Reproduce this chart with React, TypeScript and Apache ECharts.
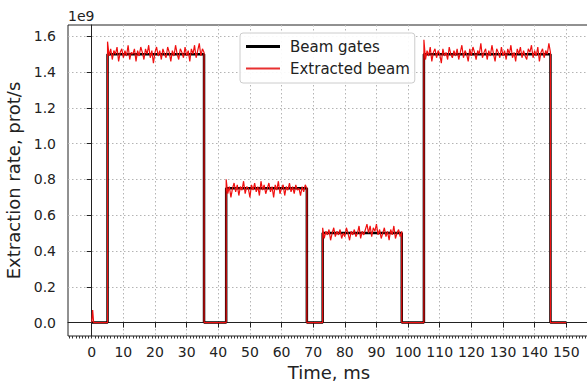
import React, { useEffect, useRef } from "react";
import * as echarts from "echarts";

// ---- data (y values in units of 1e9 prot/s, time in ms) ----
const GATE_TIMES = [0, 5, 5, 35.5, 35.5, 42.5, 42.5, 68, 68, 73, 73, 98, 98, 105, 105, 145, 145, 150];
const GATE_LEVELS = [0, 0, 1.5, 1.5, 0, 0, 0.75, 0.75, 0, 0, 0.5, 0.5, 0, 0, 1.5, 1.5, 0, 0];

const BEAM_LEAD_TIMES = [0, 0.3, 0.6];
const BEAM_LEAD_VALUES = [0, 0.07, 0];
const BEAM_END_TIME = 150;
const BEAM_STEP = 0.5;

const SEG1_START = 5;
const SEG1 = [
  1.57, 1.49, 1.53, 1.47, 1.52, 1.50, 1.54, 1.46, 1.51, 1.53,
  1.48, 1.52, 1.49, 1.55, 1.47, 1.51, 1.50, 1.53, 1.46, 1.52,
  1.49, 1.54, 1.51, 1.47, 1.53, 1.50, 1.55, 1.48, 1.52, 1.45,
  1.51, 1.54, 1.49, 1.52, 1.47, 1.53, 1.50, 1.48, 1.54, 1.51,
  1.46, 1.52, 1.49, 1.55, 1.50, 1.47, 1.53, 1.51, 1.48, 1.54,
  1.49, 1.52, 1.46, 1.53, 1.50, 1.55, 1.48, 1.52, 1.56, 1.49,
  1.53, 1.51,
];
const SEG2_START = 42.5;
const SEG2 = [
  0.80, 0.72, 0.76, 0.70, 0.75, 0.78, 0.73, 0.77, 0.71, 0.76,
  0.74, 0.79, 0.72, 0.76, 0.75, 0.70, 0.77, 0.74, 0.78, 0.73,
  0.76, 0.71, 0.79, 0.74, 0.77, 0.72, 0.75, 0.78, 0.73, 0.76,
  0.70, 0.77, 0.74, 0.79, 0.72, 0.75, 0.77, 0.71, 0.76, 0.74,
  0.78, 0.73, 0.76, 0.72, 0.77, 0.74, 0.75, 0.71, 0.76, 0.73,
  0.77, 0.75,
];
const SEG3_START = 73;
const SEG3 = [
  0.53, 0.47, 0.51, 0.49, 0.52, 0.46, 0.50, 0.53, 0.48, 0.51,
  0.49, 0.52, 0.47, 0.50, 0.48, 0.53, 0.50, 0.46, 0.51, 0.49,
  0.52, 0.48, 0.50, 0.54, 0.47, 0.51, 0.49, 0.52, 0.55, 0.50,
  0.54, 0.48, 0.53, 0.51, 0.55, 0.49, 0.52, 0.47, 0.50, 0.53,
  0.48, 0.51, 0.46, 0.52, 0.49, 0.54, 0.47, 0.50, 0.52, 0.48,
  0.51,
];
const SEG4_START = 105;
const SEG4 = [
  1.58, 1.47, 1.52, 1.49, 1.54, 1.46, 1.51, 1.53, 1.48, 1.52,
  1.50, 1.45, 1.53, 1.49, 1.51, 1.47, 1.54, 1.50, 1.48, 1.52,
  1.49, 1.53, 1.47, 1.51, 1.55, 1.48, 1.52, 1.50, 1.46, 1.53,
  1.49, 1.54, 1.51, 1.47, 1.52, 1.50, 1.56, 1.48, 1.51, 1.53,
  1.47, 1.52, 1.49, 1.55, 1.50, 1.46, 1.53, 1.51, 1.48, 1.54,
  1.49, 1.52, 1.47, 1.53, 1.50, 1.55, 1.48, 1.51, 1.46, 1.53,
  1.50, 1.54, 1.48, 1.52, 1.49, 1.47, 1.53, 1.51, 1.55, 1.48,
  1.52, 1.49, 1.54, 1.46, 1.51, 1.53, 1.48, 1.52, 1.50, 1.56,
  1.51,
];

const X_TICKS = [0, 10, 20, 30, 40, 50, 60, 70, 80, 90, 100, 110, 120, 130, 140, 150];
const Y_TICKS = [0, 0.2, 0.4, 0.6, 0.8, 1.0, 1.2, 1.4, 1.6];
const X_MIN = -7.5;
const X_MAX = 157.5;
const Y_MIN = -0.075;
const Y_MAX = 1.663;

const FONT = "DejaVu Sans";

export default function App() {
  const ref = useRef<HTMLDivElement>(null);
  useEffect(() => {
    if (!ref.current) return;
    const chart = echarts.init(ref.current, null, { renderer: "svg" });

    const gates = GATE_TIMES.map((t, i) => [t, GATE_LEVELS[i]]);
    const beam: number[][] = BEAM_LEAD_TIMES.map((t, i) => [t, BEAM_LEAD_VALUES[i]]);
    const segs: [number, number[]][] = [
      [SEG1_START, SEG1],
      [SEG2_START, SEG2],
      [SEG3_START, SEG3],
      [SEG4_START, SEG4],
    ];
    segs.forEach(([start, vals]) => {
      beam.push([start, 0]);
      vals.forEach((v, i) => beam.push([start + i * BEAM_STEP, v]));
      beam.push([start + (vals.length - 1) * BEAM_STEP, 0]);
    });
    beam.push([BEAM_END_TIME, 0]);

    const minorTicks: number[] = [];
    for (let t = Math.ceil(X_MIN); t <= Math.floor(X_MAX); t++) minorTicks.push(t);

    chart.setOption({
      animation: false,
      backgroundColor: "#ffffff",
      grid: {
        left: 68,
        top: 25,
        right: -3,
        bottom: 51,
        outerBoundsMode: "none",
        containLabel: false,
        show: true,
        borderColor: "#222",
        borderWidth: 1,
        backgroundColor: "transparent",
      },
      graphic: [
        {
          type: "text",
          left: 68,
          top: 9,
          style: { text: "1e9", font: `14px '${FONT}'`, fill: "#222" },
        },
      ],
      legend: {
        orient: "vertical",
        left: 240,
        top: 33,
        padding: [6, 5, 7, 6],
        itemGap: 7,
        itemWidth: 34,
        itemHeight: 14,
        backgroundColor: "rgba(255,255,255,0.92)",
        borderColor: "#cccccc",
        borderWidth: 1,
        borderRadius: 3,
        textStyle: { fontFamily: FONT, fontSize: 15, color: "#222", padding: [0, 0, 0, 5] },
        data: [
          { name: "Beam gates", icon: "path://M0,0H34V3H0Z", itemStyle: { color: "#000" } },
          { name: "Extracted beam", icon: "path://M0,0H34V2H0Z", itemStyle: { color: "#e83030" } },
        ],
      },
      xAxis: [
        {
          type: "value",
          min: X_MIN,
          max: X_MAX,
          interval: 10,
          name: "Time, ms",
          nameLocation: "middle",
          nameGap: 22,
          nameTextStyle: { fontFamily: FONT, fontSize: 18, color: "#222" },
          axisLine: { show: true, lineStyle: { color: "#222", width: 1 } },
          axisTick: { show: true, customValues: X_TICKS, length: 5, lineStyle: { color: "#222" } },
          axisLabel: {
            customValues: X_TICKS,
            margin: 9,
            fontFamily: FONT,
            fontSize: 14,
            color: "#222",
          },
          splitLine: { show: true, lineStyle: { color: "#b4b4b4", type: [1.5, 2.5], width: 1 } },
        },
        {
          type: "value",
          min: X_MIN,
          max: X_MAX,
          position: "bottom",
          axisLine: { show: false },
          axisTick: { show: true, customValues: minorTicks, length: 2.5, lineStyle: { color: "#333" } },
          axisLabel: { show: false },
          splitLine: { show: false },
        },
      ],
      yAxis: {
        type: "value",
        min: Y_MIN,
        max: Y_MAX,
        interval: 0.2,
        name: "Extraction rate, prot/s",
        nameLocation: "middle",
        nameGap: 39,
        nameTextStyle: { fontFamily: FONT, fontSize: 18, color: "#222" },
        axisLine: { show: true, lineStyle: { color: "#222", width: 1 } },
        axisTick: { show: true, customValues: Y_TICKS, length: 5, lineStyle: { color: "#222" } },
        axisLabel: {
          customValues: Y_TICKS,
          margin: 12,
          fontFamily: FONT,
          fontSize: 14,
          color: "#222",
          formatter: (v: number) => v.toFixed(1),
        },
        splitLine: { show: true, lineStyle: { color: "#b4b4b4", type: [1.5, 2.5], width: 1 } },
      },
      series: [
        {
          name: "Beam gates",
          type: "line",
          data: gates,
          symbol: "none",
          showSymbol: false,
          lineStyle: { color: "#000000", width: 2.5 },
          itemStyle: { color: "#000000" },
          z: 2,
        },
        {
          name: "Extracted beam",
          type: "line",
          data: beam,
          symbol: "none",
          showSymbol: false,
          lineStyle: { color: "#f01010", width: 1.2 },
          itemStyle: { color: "#f01010" },
          z: 3,
        },
      ],
    });
    return () => chart.dispose();
  }, []);
  return (
    <div
      ref={ref}
      style={{ position: "absolute", left: 0, top: 0, width: 587, height: 387, background: "#fff" }}
    />
  );
}
